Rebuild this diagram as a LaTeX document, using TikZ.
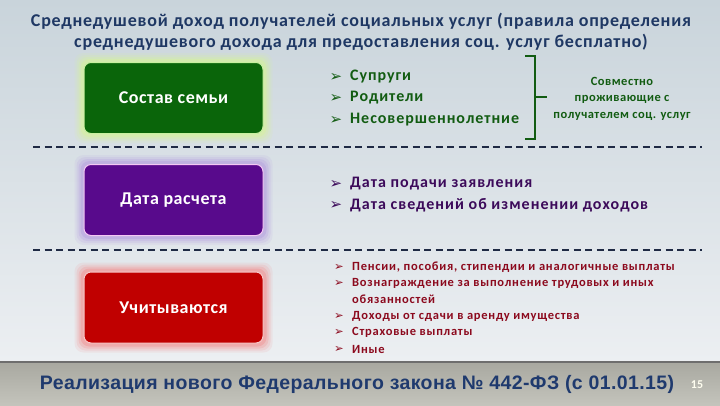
\documentclass[tikz,border=0pt]{standalone}
\usepackage{fontspec}
\setmainfont{Carlito}
\newfontfamily\arialf{Liberation Sans}
\newfontfamily\dejf{DejaVu Sans}
\pgfdeclarelayer{bg}
\pgfdeclarelayer{glow}
\pgfsetlayers{bg,glow,main}
\definecolor{titleblue}{HTML}{1F3864}
\definecolor{bgtop}{HTML}{C9D4DB}
\definecolor{bgmid}{HTML}{F3F5F7}
\definecolor{bgbot}{HTML}{ECEFF2}
\definecolor{dashc}{HTML}{1F2A44}
\definecolor{gfill}{HTML}{0A650A}
\definecolor{gedge}{HTML}{C8F0A0}
\definecolor{gglow}{HTML}{D6F0A0}
\definecolor{gtext}{HTML}{125C12}
\definecolor{pfill}{HTML}{580A8C}
\definecolor{pedge}{HTML}{F4C8F4}
\definecolor{pglow}{HTML}{B8A4E0}
\definecolor{ptext}{HTML}{3C0A5A}
\definecolor{rfill}{HTML}{C00000}
\definecolor{redge}{HTML}{F8C8C8}
\definecolor{rglow}{HTML}{F09898}
\definecolor{rtext}{HTML}{8C0A1E}
\definecolor{foottop}{HTML}{A8A8A0}
\definecolor{footbot}{HTML}{C4C4BC}
\definecolor{footline}{HTML}{6E6E6E}
\definecolor{footblue}{HTML}{1F3A6E}
\newcommand\ls[1]{\addfontfeature{LetterSpace=#1}}
\tikzset{
  catbox/.style={rounded corners=7pt, minimum width=179pt, minimum height=71pt,
    inner sep=0pt, line width=1pt, text=white, font=\bfseries\fontsize{18}{21}\selectfont\ls{3}},
  bul/.style={anchor=center, inner sep=0pt, font=\dejf\fontsize{15}{16}\selectfont},
  itemg/.style={anchor=west, inner sep=0pt, text=gtext, font=\bfseries\fontsize{16}{19}\selectfont\ls{6}},
  itemp/.style={anchor=west, inner sep=0pt, text=ptext, font=\bfseries\fontsize{16}{19}\selectfont\ls{6.4}},
  itemr/.style={anchor=west, inner sep=0pt, text=rtext, font=\bfseries\fontsize{12.5}{14}\selectfont\ls{6}},
  sep/.style={dashc, line width=1.6pt, dash pattern=on 7pt off 4.5pt},
  brace/.style={gtext, line width=1.6pt}
}
\newcommand\glowfor[2]{%
  \begin{pgfonlayer}{glow}
  \foreach \r/\o in {9/0.14,7/0.2,5/0.3,3/0.5} {
    \fill[#2, opacity=\o, rounded corners=9pt]
      ([shift={(-\r,-\r)}]#1.north west) rectangle ([shift={(\r,\r)}]#1.south east);
  }
  \end{pgfonlayer}}
\begin{document}
\begin{tikzpicture}[x=1pt,y=-1pt]
\useasboundingbox (0,0) rectangle (720,405);
\begin{pgfonlayer}{bg}
\shade[top color=bgtop, middle color=bgmid, bottom color=bgbot] (0,0) rectangle (720,362);
\shade[top color=foottop, bottom color=footbot] (0,362) rectangle (720,405);
\draw[footline, line width=2pt] (0,362) -- (720,362);
\end{pgfonlayer}

% title
\node[text=titleblue, font=\bfseries\fontsize{18}{20.5}\selectfont\ls{4.5}, align=center, inner sep=0pt] (title) at (361,32)
  {Среднедушевой доход получателей социальных услуг (правила определения\\[0pt]
   среднедушевого дохода для предоставления соц. услуг бесплатно)};

% boxes
\node[catbox, fill=gfill, draw=gedge] (fam) at (173.5,98) {Состав семьи};
\glowfor{fam}{gglow}
\node[catbox, fill=pfill, draw=pedge] (date) at (173.5,200) {Дата расчета};
\glowfor{date}{pglow}
\node[catbox, fill=rfill, draw=redge] (inc) at (173.5,307.5) {Учитываются};
\glowfor{inc}{rglow}

% separators
\coordinate (s1a) at (33,147); \coordinate (s1b) at (702,147);
\coordinate (s2a) at (33,250); \coordinate (s2b) at (702,250);
\draw[sep] (s1a) -- (s1b);
\draw[sep] (s2a) -- (s2b);

% green list
\node[bul, text=gtext] (bg1) at (336,77) {➢};
\node[bul, text=gtext] (bg2) at (336,98) {➢};
\node[bul, text=gtext] (bg3) at (336,120) {➢};
\node[itemg] (g1) at (350,77) {Супруги};
\node[itemg] (g2) at (350,98) {Родители};
\node[itemg] (g3) at (350,120) {Несовершеннолетние};

% brace
\coordinate (brt) at (525,56);
\coordinate (brb) at (525,139);
\coordinate (brm) at (547,97);
\draw[brace] (brt) -- (535,56) -- (535,139) -- (brb);
\draw[brace] (535,97) -- (brm);
\node[text=gtext, font=\bfseries\fontsize{12.5}{16.5}\selectfont\ls{4}, align=center, inner sep=0pt] (cohab) at (622,98.5)
  {Совместно\\проживающие с\\получателем соц. услуг};

% purple list
\node[bul, text=ptext] (bp1) at (336,184) {➢};
\node[bul, text=ptext] (bp2) at (336,205) {➢};
\node[itemp] (p1) at (350,184) {Дата подачи заявления};
\node[itemp] (p2) at (350,205) {Дата сведений об изменении доходов};

% red list
\foreach \y/\n in {267/1,283/2,316/4,332/5,349/6} {
  \node[bul, text=rtext, font=\dejf\fontsize{11.5}{12}\selectfont] (br\n) at (339,\y) {➢};
}
\node[itemr] (r1) at (352,267) {Пенсии, пособия, стипендии и аналогичные выплаты};
\node[itemr] (r2) at (352,283) {Вознаграждение за выполнение трудовых и иных};
\node[itemr] (r3) at (352,299) {обязанностей};
\node[itemr] (r4) at (352,316) {Доходы от сдачи в аренду имущества};
\node[itemr] (r5) at (352,332) {Страховые выплаты};
\node[itemr] (r6) at (352,349) {Иные};

% footer
\node[text=footblue, font=\arialf\bfseries\fontsize{19.5}{22}\selectfont\ls{2}, inner sep=0pt] (foot) at (357,384)
  {Реализация нового Федерального закона № 442-ФЗ (с 01.01.15)};
\node[text=white!94!yellow, font=\bfseries\fontsize{12}{13}\selectfont, inner sep=0pt] (page) at (697,385) {15};
\end{tikzpicture}
\end{document}
